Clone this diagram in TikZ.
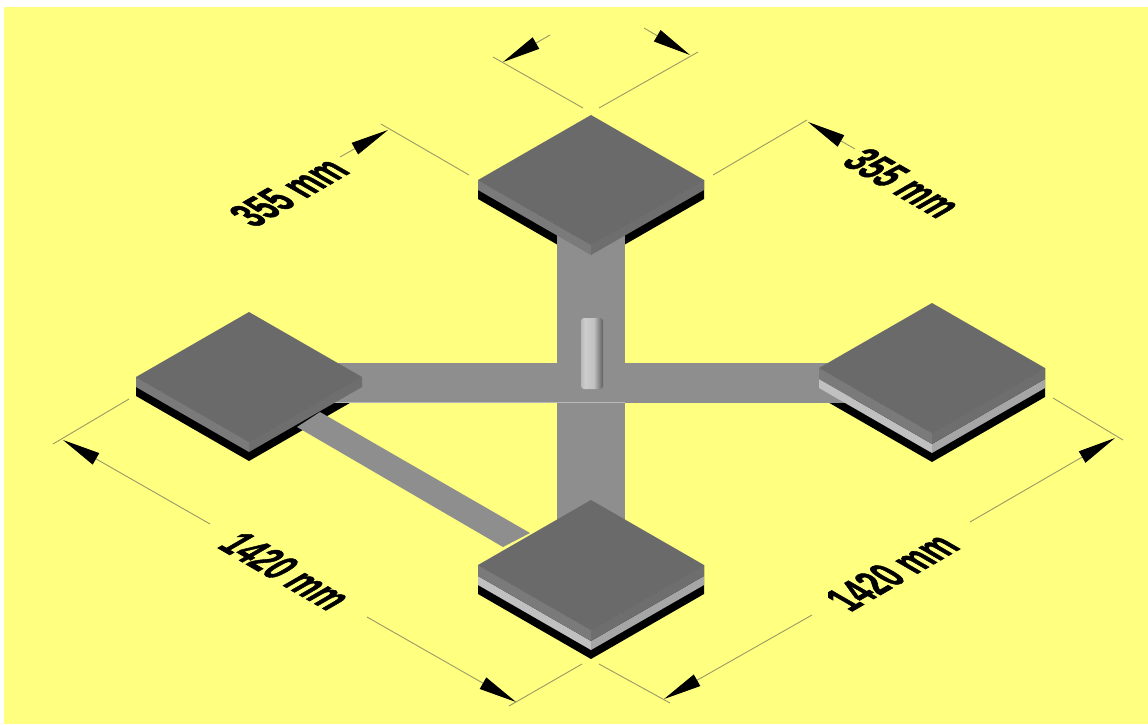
\documentclass[tikz,border=0pt]{standalone}
\usepackage{fontspec}
\setmainfont{Liberation Sans}
\newfontfamily\dimfont[FakeBold=1.6]{Liberation Sans}
\usetikzlibrary{arrows.meta}
\definecolor{bgyellow}{HTML}{FFFF80}
\definecolor{padtop}{HTML}{6A6A6A}
\definecolor{padleft}{HTML}{7A7A7A}
\definecolor{padright}{HTML}{6E6E6E}
\definecolor{lightleft}{HTML}{C0C0C0}
\definecolor{lightright}{HTML}{A6A6A6}
\definecolor{barcol}{HTML}{8E8E8E}
\definecolor{dimcol}{HTML}{9A9A66}
\pgfdeclarehorizontalshading{postshade}{100bp}{
  color(0bp)=(barcol);
  color(16bp)=(black!34);
  color(34bp)=(black!20);
  color(54bp)=(black!24);
  color(68bp)=(black!50);
  color(80bp)=(black!72);
  color(92bp)=(black!55);
  color(100bp)=(barcol)}
\tikzset{
  dimline/.style={draw=dimcol,line width=0.9pt},
  dimarrow/.style={dimline,-{Triangle[length=38pt,width=13pt,color=black,fill=black]}},
  dimlabel/.style={font=\fontsize{28}{28}\dimfont\bfseries,inner sep=0pt,text=black,transform shape},
  barfill/.style={fill=barcol}
}
\newcommand{\padunder}[3]{\fill[black,shift={(#1,#2)}]
  (-113,65) -- (0,130) -- (113,65) -- (113,65+#3) -- (0,130+#3) -- (-113,65+#3) -- cycle;}
\newcommand{\padband}[6]{\begin{scope}[shift={(#1,#2)}]
  \fill[#5] (-113,65+#3) -- (0,130+#3) -- (0,130+#4) -- (-113,65+#4) -- cycle;
  \fill[#6] (113,65+#3) -- (0,130+#3) -- (0,130+#4) -- (113,65+#4) -- cycle;
  \end{scope}}
\newcommand{\padsurface}[2]{\fill[padtop,shift={(#1,#2)}]
  (0,0) -- (113,65) -- (0,130) -- (-113,65) -- cycle;}
\begin{document}
\begin{tikzpicture}[x=1pt,y=-1pt]
\useasboundingbox (0,0) rectangle (1148,724);
\fill[white] (0,0) rectangle (1148,724);
\fill[bgyellow] (4,7) rectangle (1148,724);
\padunder{591}{115}{19}
\padunder{249}{312}{19}
\padunder{932}{303}{29}
\padunder{591}{500}{29}
\fill[barfill] (557,235) rectangle (625,525);
\fill[barfill] (330,363) rectangle (852,403);
\fill[barfill] (320,412) -- (530,533) -- (503,547) -- (297,427) -- cycle;
\fill[black!28] (333,401.5) rectangle (625,403);
\shade[shading=postshade,rounded corners=3pt] (581,318) rectangle (603,389);
\padband{932}{303}{11}{20}{lightleft}{lightright}
\padband{591}{500}{11}{20}{lightleft}{lightright}
\padband{591}{115}{0}{10}{padleft}{padright}
\padband{249}{312}{0}{10}{padleft}{padright}
\padband{932}{303}{0}{11}{padleft}{padright}
\padband{591}{500}{0}{11}{padleft}{padright}
\padsurface{591}{115}
\padsurface{249}{312}
\padsurface{932}{303}
\padsurface{591}{500}
\coordinate (t1) at (583,108); \coordinate (t2) at (493,57);
\coordinate (t3) at (599,108); \coordinate (t4) at (698,52);
\coordinate (ta) at (503,62);  \coordinate (tb) at (550,35);
\coordinate (tc) at (690,55);  \coordinate (td) at (644,28);
\coordinate (l1) at (469,175); \coordinate (l2) at (381,124);
\coordinate (la) at (388,130); \coordinate (lb) at (340,157);
\coordinate (r1) at (713,175); \coordinate (r2) at (807,120);
\coordinate (ra) at (808,122); \coordinate (rb) at (855,149);
\coordinate (bl1) at (129,399); \coordinate (bl2) at (53,444);
\coordinate (bla) at (63,440);  \coordinate (blb) at (210,524);
\coordinate (bl3) at (582,664); \coordinate (bl4) at (509,706);
\coordinate (blc) at (516,702); \coordinate (bld) at (367,617);
\coordinate (br1) at (599,664); \coordinate (br2) at (670,703);
\coordinate (bra) at (664,699); \coordinate (brb) at (812,615);
\coordinate (br3) at (1053,398); \coordinate (br4) at (1123,440);
\coordinate (brc) at (1115,438); \coordinate (brd) at (970,522);
\draw[dimline] (t1) -- (t2);
\draw[dimline] (t3) -- (t4);
\draw[dimline] (l1) -- (l2);
\draw[dimline] (r1) -- (r2);
\draw[dimline] (bl1) -- (bl2);
\draw[dimline] (bl3) -- (bl4);
\draw[dimline] (br1) -- (br2);
\draw[dimline] (br3) -- (br4);
\draw[dimarrow] (tb) -- (ta);
\draw[dimarrow] (td) -- (tc);
\draw[dimarrow] (lb) -- (la);
\draw[dimarrow] (rb) -- (ra);
\draw[dimarrow] (blb) -- (bla);
\draw[dimarrow] (bld) -- (blc);
\draw[dimarrow] (brb) -- (bra);
\draw[dimarrow] (brd) -- (brc);
% labels lie on the ground plane: sheared along the isometric axes
\begin{scope}[cm={.93,.537,-1.47,.85,(289,192)}]
  \node[dimlabel] (lab1) at (0,0) {355 mm};
\end{scope}
\begin{scope}[cm={.93,-.537,1.47,.85,(903,183)}]
  \node[dimlabel] (lab2) at (0,0) {355 mm};
\end{scope}
\begin{scope}[cm={.93,-.537,1.47,.85,(286,571)}]
  \node[dimlabel] (lab3) at (0,0) {1420 mm};
\end{scope}
\begin{scope}[cm={.93,.537,-1.47,.85,(892,572)}]
  \node[dimlabel] (lab4) at (0,0) {1420 mm};
\end{scope}
\end{tikzpicture}
\end{document}
